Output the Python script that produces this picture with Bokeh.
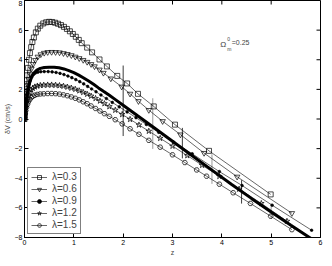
import math
from bokeh.plotting import figure
from bokeh.models import Range1d, FixedTicker, Legend, LegendItem, Label
from bokeh.embed import file_html
from bokeh.resources import INLINE

# ---------------- data ----------------
x_ticks = [0, 1, 2, 3, 4, 5, 6]
y_ticks = [-8, -6, -4, -2, 0, 2, 4, 6, 8]

labels = ["λ=0.3", "λ=0.6", "λ=0.9", "λ=1.2", "λ=1.5"]

# reference model (thick line, no markers)
z_ref = [0, 0.01, 0.025, 0.045, 0.07, 0.1, 0.14, 0.19, 0.25, 0.32, 0.4, 0.5, 0.6, 0.7, 0.8, 0.9,
         1.0, 1.1, 1.2, 1.3, 1.4, 1.5, 1.6, 1.72, 1.85, 2.0, 2.3, 2.6, 3.0, 3.4, 3.8, 4.2, 4.6,
         5.0, 5.4, 5.8]
v_ref = [0, 0.45, 0.95, 1.45, 1.95, 2.4, 2.8, 3.1, 3.3, 3.42, 3.48, 3.5, 3.5, 3.46, 3.38, 3.27,
         3.13, 2.96, 2.77, 2.56, 2.34, 2.1, 1.87, 1.6, 1.29, 0.93, 0.2, -0.52, -1.5, -2.48, -3.45,
         -4.42, -5.36, -6.28, -7.18, -8.05]

z_l03 = [0, 0.005, 0.012, 0.02, 0.03, 0.04, 0.055, 0.07, 0.09, 0.11, 0.135, 0.16, 0.19, 0.23,
         0.27, 0.32, 0.38, 0.44, 0.5, 0.56, 0.62, 0.68, 0.74, 0.8, 0.86, 0.92, 0.98, 1.04, 1.10,
         1.16, 1.27, 1.37, 1.52, 1.67, 1.88, 2.08, 2.30, 2.62, 3.05, 3.74, 4.99]
v_l03 = [0, 0.35, 0.8, 1.3, 1.85, 2.35, 2.95, 3.45, 4.0, 4.45, 4.85, 5.2, 5.5, 5.85, 6.1, 6.3,
         6.45, 6.53, 6.56, 6.55, 6.5, 6.43, 6.34, 6.22, 6.08, 5.92, 5.74, 5.55, 5.34, 5.12, 4.82,
         4.5, 4.02, 3.55, 2.91, 2.40, 1.70, 0.85, -0.38, -2.15, -5.09]

z_l06 = [0, 0.006, 0.014, 0.024, 0.036, 0.05, 0.066, 0.085, 0.11, 0.14, 0.175, 0.22, 0.27, 0.33,
         0.4, 0.47, 0.55, 0.63, 0.71, 0.79, 0.87, 0.95, 1.03, 1.11, 1.19, 1.27, 1.35, 1.42, 1.52,
         1.60, 1.75, 1.97, 2.14, 2.31, 2.52, 2.80, 3.16, 3.64, 4.31, 5.42]
v_l06 = [0, 0.3, 0.7, 1.1, 1.5, 1.9, 2.3, 2.7, 3.05, 3.4, 3.7, 3.98, 4.2, 4.36, 4.46, 4.51, 4.52,
         4.51, 4.49, 4.44, 4.38, 4.3, 4.2, 4.1, 3.98, 3.85, 3.7, 3.55, 3.33, 3.11, 2.73, 2.18,
         1.70, 1.20, 0.6, -0.15, -1.05, -2.3, -3.9, -6.36]

z_l09 = [0, 0.006, 0.014, 0.024, 0.036, 0.05, 0.068, 0.09, 0.115, 0.145, 0.18, 0.22, 0.27, 0.33,
         0.4, 0.48, 0.56, 0.64, 0.72, 0.8, 0.88, 0.96, 1.04, 1.12, 1.2, 1.28, 1.36, 1.45, 1.55,
         1.66, 1.78, 1.92, 2.08, 2.26, 2.47, 2.72, 3.02, 3.4, 3.95, 4.41, 5.02, 5.82]
v_l09 = [0, 0.25, 0.58, 0.95, 1.3, 1.65, 2.0, 2.32, 2.6, 2.83, 3.0, 3.1, 3.16, 3.19, 3.2, 3.2,
         3.18, 3.14, 3.08, 3.0, 2.9, 2.79, 2.66, 2.52, 2.37, 2.2, 2.03, 1.84, 1.62, 1.38, 1.12,
         0.82, 0.48, 0.09, -0.37, -0.9, -1.55, -2.35, -3.55, -4.49, -5.82, -7.51]

z_l12 = [0, 0.006, 0.014, 0.025, 0.04, 0.058, 0.08, 0.105, 0.135, 0.17, 0.21, 0.26, 0.32, 0.39,
         0.47, 0.55, 0.63, 0.71, 0.79, 0.87, 0.95, 1.03, 1.11, 1.19, 1.27, 1.35, 1.44, 1.53, 1.62,
         1.72, 1.84, 1.98, 2.14, 2.32, 2.52, 2.75, 3.0, 3.3, 3.6, 3.95, 4.35, 4.8, 5.32]
v_l12 = [0, 0.22, 0.48, 0.78, 1.08, 1.36, 1.6, 1.8, 1.96, 2.08, 2.17, 2.23, 2.27, 2.29, 2.3, 2.3,
         2.29, 2.26, 2.22, 2.16, 2.09, 2.01, 1.91, 1.8, 1.68, 1.55, 1.39, 1.22, 1.04, 0.84, 0.6,
         0.31, -0.02, -0.4, -0.82, -1.3, -1.83, -2.47, -3.12, -3.87, -4.73, -5.7, -6.9]

z_l15 = [0, 0.006, 0.014, 0.025, 0.04, 0.058, 0.08, 0.105, 0.135, 0.17, 0.21, 0.26, 0.32, 0.39,
         0.47, 0.55, 0.63, 0.71, 0.79, 0.87, 0.95, 1.03, 1.11, 1.19, 1.27, 1.35, 1.44, 1.53, 1.62,
         1.72, 1.84, 1.98, 2.14, 2.32, 2.52, 2.75, 3.0, 3.25, 3.49, 3.69, 3.95, 4.23, 4.58, 4.99,
         5.42]
v_l15 = [0, 0.16, 0.35, 0.56, 0.78, 0.98, 1.16, 1.31, 1.44, 1.54, 1.61, 1.66, 1.69, 1.70, 1.72,
         1.72, 1.71, 1.68, 1.63, 1.57, 1.49, 1.4, 1.29, 1.16, 1.03, 0.88, 0.71, 0.54, 0.36, 0.18,
         -0.05, -0.33, -0.66, -1.03, -1.44, -1.9, -2.42, -2.94, -3.44, -3.86, -4.4, -4.98, -5.7,
         -6.56, -7.47]

# error bars: redshift, centre, half-length
err_z = [2.0, 2.6, 3.2, 3.8, 4.4, 5.0]
err_v = [1.23, -0.31, -1.63, -3.38, -4.92, -6.23]
err_s = [2.38, 1.71, 1.03, 1.00, 0.79, 0.52]
err_color = ["#3c3c3c", "#9a9a9a", "#3c3c3c", "#9a9a9a", "#3c3c3c", "#9a9a9a"]

# ---------------- figure ----------------
FONT = "Liberation Sans"
X0, X1, Y0, Y1 = x_ticks[0], x_ticks[-1], y_ticks[0], y_ticks[-1]
p = figure(width=324, height=258, output_backend="svg", toolbar_location=None,
           x_range=Range1d(X0, X1), y_range=Range1d(Y0, Y1),
           x_axis_label="z", y_axis_label="δV (cm/s)",
           min_border_left=0, min_border_right=4, min_border_top=0, min_border_bottom=0)
p.grid.visible = False
p.outline_line_color = "black"
p.outline_line_width = 1

for ax in (p.xaxis[0], p.yaxis[0]):
    ax.major_tick_in = 4
    ax.major_tick_out = 0
    ax.minor_tick_in = 0
    ax.minor_tick_out = 0
    ax.minor_tick_line_color = None
    ax.major_label_text_font = FONT
    ax.major_label_text_font_size = "7px"
    ax.major_label_text_color = "black"
    ax.major_label_text_line_height = 1.0
    ax.axis_label_text_font = FONT
    ax.axis_label_text_font_size = "7px"
    ax.axis_label_text_font_style = "normal"
    ax.axis_label_text_line_height = 1.0
    ax.major_label_standoff = 2
    ax.axis_label_standoff = 1
    ax.axis_line_color = "black"
p.xaxis.ticker = FixedTicker(ticks=x_ticks)
p.yaxis.ticker = FixedTicker(ticks=y_ticks)

# inward ticks on top and right edges (box style)
p.ray(x=x_ticks, y=[Y1] * len(x_ticks), length=4, length_units="screen",
      angle=-math.pi / 2, line_color="black", line_width=1)
p.ray(x=[X1] * len(y_ticks), y=y_ticks, length=4, length_units="screen",
      angle=math.pi, line_color="black", line_width=1)

# error bars
lo = [c - s for c, s in zip(err_v, err_s)]
hi = [c + s for c, s in zip(err_v, err_s)]
p.segment(x0=err_z, y0=lo, x1=err_z, y1=hi, line_color=err_color, line_width=1)

# reference thick line
p.line(z_ref, v_ref, line_color="black", line_width=3)

series = [
    (z_l03, v_l03, "square", 5, None),
    (z_l06, v_l06, "inverted_triangle", 5.5, None),
    (z_l09, v_l09, "circle", 2.6, "black"),
    (z_l12, v_l12, "star", 6, None),
    (z_l15, v_l15, "hex", 5, None),
]
items = []
for (zz, vv, mk, sz, fc), lab in zip(series, labels):
    r1 = p.line(zz, vv, line_color="black", line_width=0.6)
    r2 = p.scatter(zz, vv, marker=mk, size=sz, line_color="black", line_width=0.7,
                   fill_color=fc if fc else "white", fill_alpha=1 if fc else 0)
    items.append(LegendItem(label=lab, renderers=[r1, r2]))

leg = Legend(items=items, location="bottom_left")
leg.label_text_font = FONT
leg.label_text_font_size = "10px"
leg.border_line_color = "black"
leg.border_line_width = 1
leg.background_fill_color = "white"
leg.background_fill_alpha = 1
leg.padding = 3
leg.spacing = 1
leg.margin = 3
leg.glyph_width = 16
leg.glyph_height = 10
leg.label_height = 10
leg.label_standoff = 5
p.add_layout(leg)

# annotation  Ω_m^0 = 0.25
p.add_layout(Label(x=3.97, y=5.05, text="Ω", text_font=FONT, text_font_size="8px",
                   text_baseline="middle", text_align="left"))
p.add_layout(Label(x=4.11, y=5.4, text="0", text_font=FONT, text_font_size="5px",
                   text_baseline="middle", text_align="left"))
p.add_layout(Label(x=4.11, y=4.75, text="m", text_font=FONT, text_font_size="5px",
                   text_baseline="middle", text_align="left"))
p.add_layout(Label(x=4.2, y=5.15, text="=0.25", text_font=FONT, text_font_size="7px",
                   text_baseline="middle", text_align="left"))

open("out.html", "w").write(file_html(p, INLINE))
